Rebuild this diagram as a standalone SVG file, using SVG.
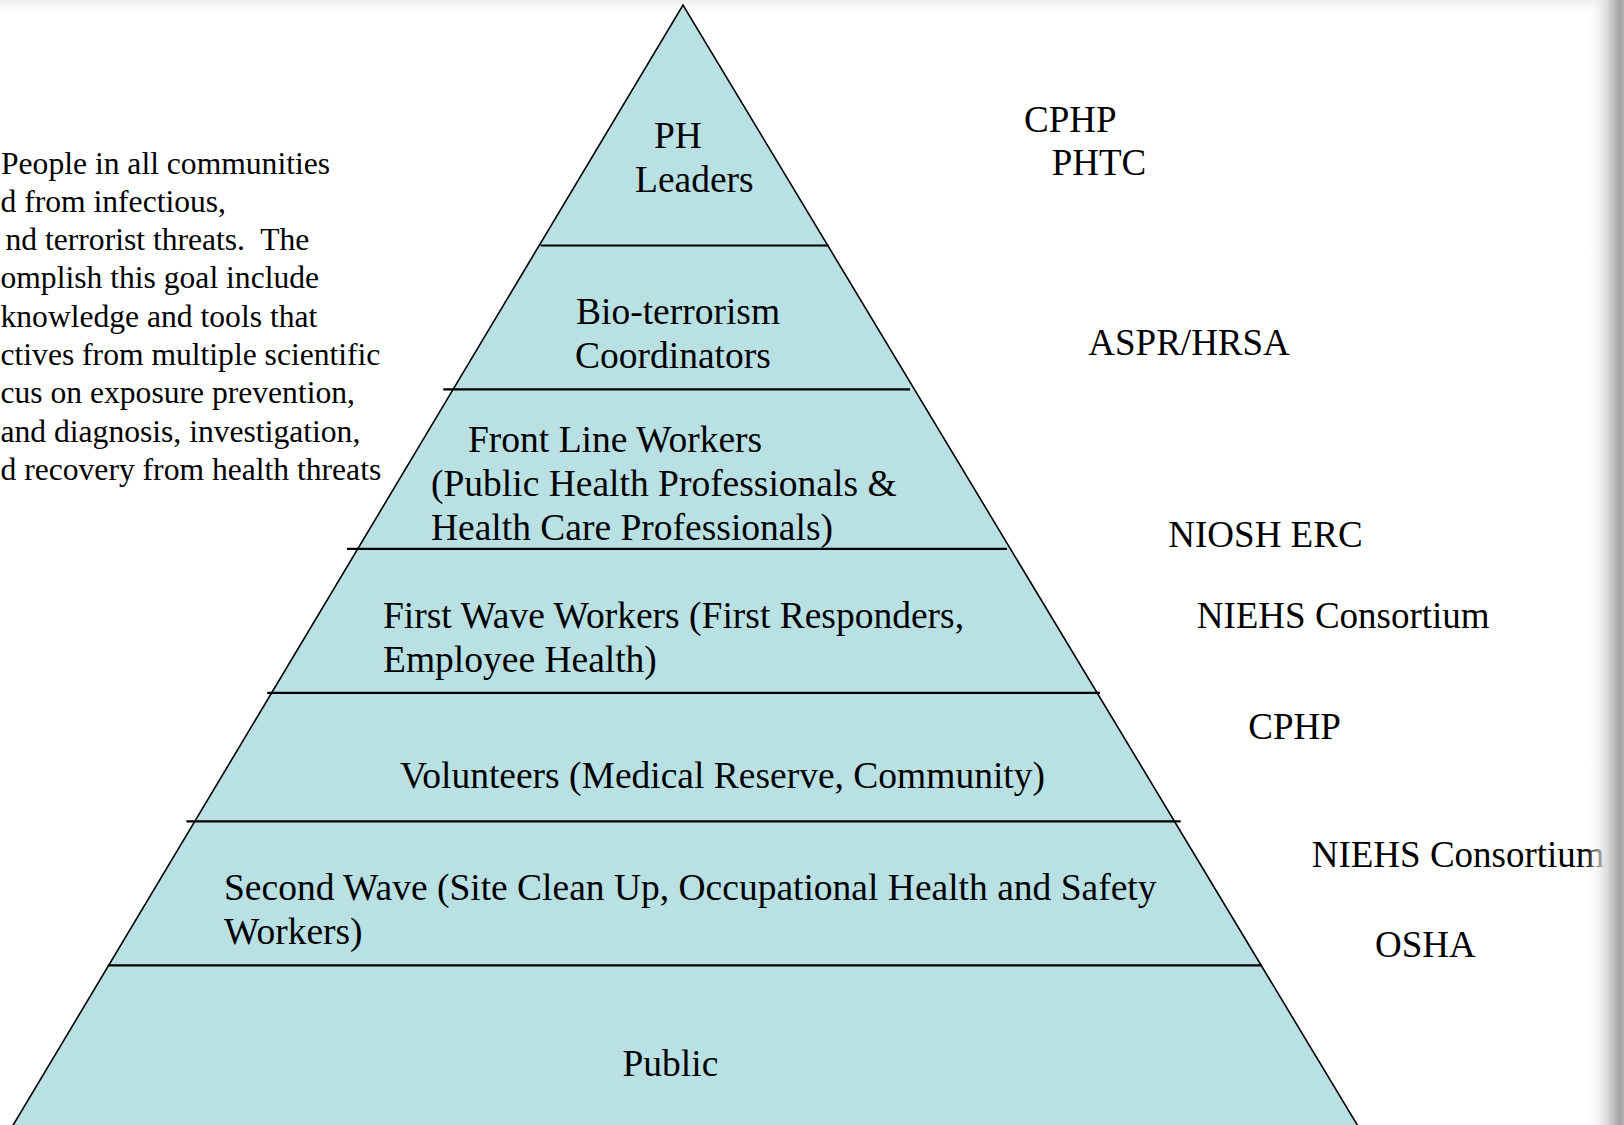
<svg xmlns="http://www.w3.org/2000/svg" width="1624" height="1125" viewBox="0 0 1624 1125">
  <style>
    .tier { fill: #b9e0e3; stroke: none; }
    .t { font-family: "Liberation Serif", "Times New Roman", serif; font-size: 37.5px; fill: #000; }
    .r { font-family: "Liberation Serif", "Times New Roman", serif; font-size: 37px; fill: #000; }
    .p { font-family: "Liberation Serif", "Times New Roman", serif; font-size: 31.6px; fill: #000; }
    .side { fill: none; stroke: #000; stroke-width: 1.6; }
    .div { stroke: #000; stroke-width: 2.2; }
  </style>
  <defs>
    <linearGradient id="shadowR" x1="0" y1="0" x2="1" y2="0">
      <stop offset="0" stop-color="#ffffff" stop-opacity="0"/>
      <stop offset="0.55" stop-color="#dcdcdc"/>
      <stop offset="0.88" stop-color="#a3a3a3"/>
      <stop offset="1" stop-color="#b0b0b0"/>
    </linearGradient>
    <linearGradient id="shadowT" x1="0" y1="0" x2="0" y2="1">
      <stop offset="0" stop-color="#ececec"/>
      <stop offset="1" stop-color="#ffffff" stop-opacity="0"/>
    </linearGradient>
  </defs>
  <rect x="0" y="0" width="1624" height="1125" fill="#ffffff"/>
  <rect x="0" y="0" width="1624" height="16" fill="url(#shadowT)"/>

  <g id="goal-text">
    <text class="p" x="1" y="173.5">People in all communities</text>
    <text class="p" x="0.5" y="211.8">d from infectious,</text>
    <text class="p" x="5.5" y="250.1" xml:space="preserve">nd terrorist threats.  The</text>
    <text class="p" x="0.5" y="288.4">omplish this goal include</text>
    <text class="p" x="0.5" y="326.7">knowledge and tools that</text>
    <text class="p" x="0.5" y="365">ctives from multiple scientific</text>
    <text class="p" x="0.5" y="403.3">cus on exposure prevention,</text>
    <text class="p" x="0.5" y="441.6">and diagnosis, investigation,</text>
    <text class="p" x="0.5" y="479.9">d recovery from health threats</text>
  </g>

  <g id="tier-ph-leaders">
    <polygon class="tier" points="683,5 827.8,245.5 539.2,245.5"/>
    <text class="t" x="654" y="148.3">PH</text>
    <text class="t" x="635" y="192.3">Leaders</text>
  </g>
  <g id="tier-bioterrorism">
    <polygon class="tier" points="539.2,245.5 827.8,245.5 914.4,389.4 453.1,389.4"/>
    <text class="t" x="576" y="323.8">Bio-terrorism</text>
    <text class="t" x="575" y="367.8">Coordinators</text>
  </g>
  <g id="tier-front-line">
    <polygon class="tier" points="453.1,389.4 914.4,389.4 1010.4,548.9 357.7,548.9"/>
    <text class="t" x="468" y="452">Front Line Workers</text>
    <text class="t" x="431" y="496">(Public Health Professionals &amp;</text>
    <text class="t" x="431" y="540">Health Care Professionals)</text>
  </g>
  <g id="tier-first-wave">
    <polygon class="tier" points="357.7,548.9 1010.4,548.9 1097.1,692.9 271.6,692.9"/>
    <text class="t" x="383" y="628">First Wave Workers (First Responders,</text>
    <text class="t" x="383" y="672">Employee Health)</text>
  </g>
  <g id="tier-volunteers">
    <polygon class="tier" points="271.6,692.9 1097.1,692.9 1174.4,821.3 194.9,821.3"/>
    <text class="t" x="400" y="788">Volunteers (Medical Reserve, Community)</text>
  </g>
  <g id="tier-second-wave">
    <polygon class="tier" points="194.9,821.3 1174.4,821.3 1261.1,965.3 108.7,965.3"/>
    <text class="t" x="224" y="899.6">Second Wave (Site Clean Up, Occupational Health and Safety</text>
    <text class="t" x="224" y="943.6">Workers)</text>
  </g>
  <g id="tier-public">
    <polygon class="tier" points="108.7,965.3 1261.1,965.3 1360.3,1130 10.2,1130"/>
    <text class="t" x="622.5" y="1075.7">Public</text>
  </g>

  <g id="connectors">
    <polyline class="side" points="10.2,1130 683,5 1360.3,1130"/>
    <line class="div" x1="540.6" y1="245.5" x2="828.6" y2="245.5"/>
    <line class="div" x1="443.3" y1="389.4" x2="910" y2="389.4"/>
    <line class="div" x1="347" y1="548.9" x2="1007" y2="548.9"/>
    <line class="div" x1="267.2" y1="692.9" x2="1100" y2="692.9"/>
    <line class="div" x1="186.4" y1="821.3" x2="1180.7" y2="821.3"/>
    <line class="div" x1="107.7" y1="965.3" x2="1261.5" y2="965.3"/>
  </g>

  <g id="programs">
    <text class="r" x="1024" y="131.7">CPHP</text>
    <text class="r" x="1051.7" y="175">PHTC</text>
    <text class="r" x="1088.3" y="355">ASPR/HRSA</text>
    <text class="r" x="1168.3" y="546.7">NIOSH ERC</text>
    <text class="r" x="1196.7" y="628.3">NIEHS Consortium</text>
    <text class="r" x="1248.3" y="739.3">CPHP</text>
    <text class="r" x="1311.7" y="866.7">NIEHS Consortium</text>
    <text class="r" x="1375" y="956.7">OSHA</text>
  </g>

  <rect x="1586" y="0" width="38" height="1125" fill="url(#shadowR)"/>
</svg>
